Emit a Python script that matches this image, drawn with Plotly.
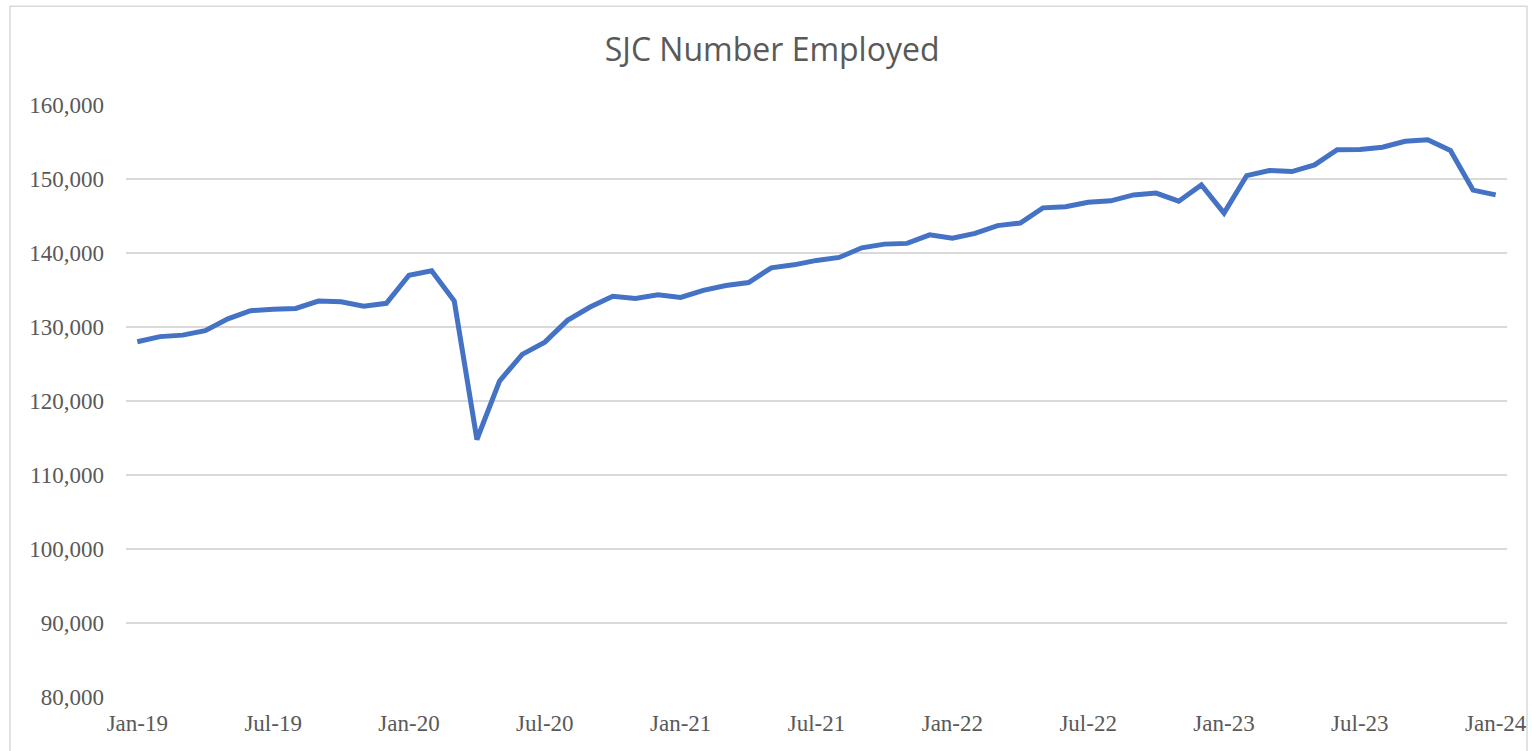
import plotly.graph_objects as go

# monthly labels Jan-19 .. Jan-24
MONTHS = [f"{m}-{y}" for y in range(19, 25)
          for m in ["Jan", "Feb", "Mar", "Apr", "May", "Jun",
                    "Jul", "Aug", "Sep", "Oct", "Nov", "Dec"]][:61]

# SJC number employed
EMPLOYED = [
    128000, 128700, 128900, 129500, 131100, 132200, 132400, 132500,
    133500, 133400, 132800, 133200, 137000, 137600, 133500, 114800,
    122700, 126300, 127950, 130900, 132700, 134150, 133850, 134350,
    134000, 134950, 135600, 136000, 138000, 138400, 139000, 139400,
    140700, 141200, 141300, 142450, 142000, 142650, 143700, 144050,
    146100, 146250, 146850, 147050, 147850, 148100, 147000, 149200,
    145400, 150450, 151150, 151000, 151900, 153950, 154000, 154300,
    155100, 155300, 153850, 148500, 147850,
]

TICK_LABELS = MONTHS[::6]
Y_TICKS = list(range(80000, 160001, 10000))

fig = go.Figure()
fig.add_trace(go.Scatter(
    x=MONTHS,
    y=EMPLOYED,
    mode="lines",
    line=dict(color="#4472C4", width=5),
    showlegend=False,
))

# light outer frame like the Excel chart area
fig.add_shape(
    type="rect", xref="paper", yref="paper",
    x0=-0.084, x1=1.0145, y0=-0.2, y1=1.167,
    line=dict(color="#D9D9D9", width=1.5),
    fillcolor="rgba(0,0,0,0)", layer="below",
)

fig.update_layout(
    width=1532, height=751,
    paper_bgcolor="white",
    plot_bgcolor="white",
    margin=dict(l=126, r=25, t=105, b=54),
    title=dict(
        text="SJC Number Employed",
        x=0.504, xref="container", xanchor="center",
        y=1 - 50 / 751, yref="container", yanchor="middle",
        font=dict(family="Open Sans", size=32, color="#595959"),
    ),
    font=dict(family="Liberation Serif", size=23, color="#595959"),
)
fig.update_xaxes(
    type="category",
    range=[-0.5, 60.5],
    tickmode="array",
    tickvals=TICK_LABELS,
    ticktext=TICK_LABELS,
    showgrid=False,
    ticks="",
    showline=False,
    automargin=False,
    ticklabelstandoff=10,
    tickfont=dict(family="Liberation Serif", size=23, color="#595959"),
)
fig.update_yaxes(
    range=[80000, 160000],
    tickvals=Y_TICKS,
    tickformat=",d",
    showgrid=True,
    gridcolor="#D9D9D9",
    gridwidth=1.5,
    zeroline=False,
    ticks="",
    automargin=False,
    ticklabelstandoff=21,
    tickfont=dict(family="Liberation Serif", size=23, color="#595959"),
)

# drop the default 8px body margin so the figure fills the window exactly
fig.write_html(
    "out.html",
    config={"displayModeBar": False},
    post_script="document.body.style.margin = '0';",
)
